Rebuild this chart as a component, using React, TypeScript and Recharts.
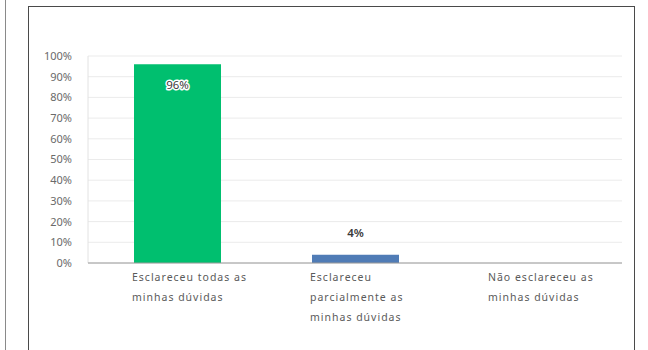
import React from 'react'
import { BarChart, Bar, XAxis, YAxis, CartesianGrid, Cell, LabelList } from 'recharts'

const categories = [
  'Esclareceu todas as minhas dúvidas',
  'Esclareceu parcialmente as minhas dúvidas',
  'Não esclareceu as minhas dúvidas'
]
const categoryLines = [
  ['Esclareceu todas as', 'minhas dúvidas'],
  ['Esclareceu', 'parcialmente as', 'minhas dúvidas'],
  ['Não esclareceu as', 'minhas dúvidas']
]
const percentages = [96, 4, 0]
const barColors = ['#00BF6F', '#507CB6', '#507CB6']
const yTicks = [0, 10, 20, 30, 40, 50, 60, 70, 80, 90, 100]

const data = categories.map((name, i) => ({ name, value: percentages[i] }))

const FONT = '"Noto Sans", "DejaVu Sans", sans-serif'

function CategoryTick(props: any) {
  const { x, y, payload } = props
  const lines = categoryLines[payload.index] || [payload.value]
  return (
    <text x={x - 45} y={y} fill="#5a5a5a" fontSize={10.5} fontFamily={FONT} letterSpacing={1} textAnchor="start">
      {lines.map((line: string, i: number) => (
        <tspan key={i} x={x - 45} dy={i === 0 ? 10 : 20}>{line}</tspan>
      ))}
    </text>
  )
}

function ValueLabel(props: any) {
  const { x, y, width, height, value } = props
  if (!value) return null
  const inside = height > 30
  const cx = x + width / 2
  const ty = inside ? y + 21 : y - 22
  return (
    <text
      x={cx}
      y={ty}
      dy={4}
      textAnchor="middle"
      fontSize={11.5}
      fontFamily={FONT}
      fontWeight={inside ? 400 : 600}
      fill="#3a3a3a"
      stroke={inside ? '#ffffff' : 'none'}
      strokeWidth={inside ? 3 : 0}
      paintOrder="stroke"
      strokeLinejoin="round"
    >
      {value}%
    </text>
  )
}

export default function App() {
  return (
    <div style={{ position: 'absolute', left: 0, top: 0, width: 648, height: 350, background: '#fff', overflow: 'hidden' }}>
      <div style={{ position: 'absolute', left: 5, top: 0, width: 1, height: 350, background: '#8a8a8a' }} />
      <div
        style={{
          position: 'absolute',
          left: 28,
          top: 6,
          width: 607,
          height: 360,
          border: '1.5px solid #4a4a4a',
          boxSizing: 'border-box'
        }}
      />
      <div style={{ position: 'absolute', left: 0, top: 0 }}>
        <BarChart width={648} height={350} data={data} margin={{ top: 56, right: 26, left: 0, bottom: 57 }} barSize={87}>
          <CartesianGrid vertical={false} stroke="#ebebeb" />
          <YAxis
            width={88}
            domain={[0, 100]}
            ticks={yTicks}
            interval={0}
            tickFormatter={(v: number) => `${v}%`}
            axisLine={{ stroke: '#e2e2e2' }}
            tickLine={false}
            tickMargin={10}
            tick={{ fill: '#6a6a6a', fontSize: 11, fontFamily: FONT }}
          />
          <XAxis
            dataKey="name"
            axisLine={{ stroke: '#9a9a9a' }}
            tickLine={false}
            interval={0}
            tick={<CategoryTick />}
          />
          <Bar dataKey="value" isAnimationActive={false}>
            {data.map((d, i) => (
              <Cell key={d.name} fill={barColors[i]} />
            ))}
            <LabelList dataKey="value" content={<ValueLabel />} />
          </Bar>
        </BarChart>
      </div>
    </div>
  )
}
